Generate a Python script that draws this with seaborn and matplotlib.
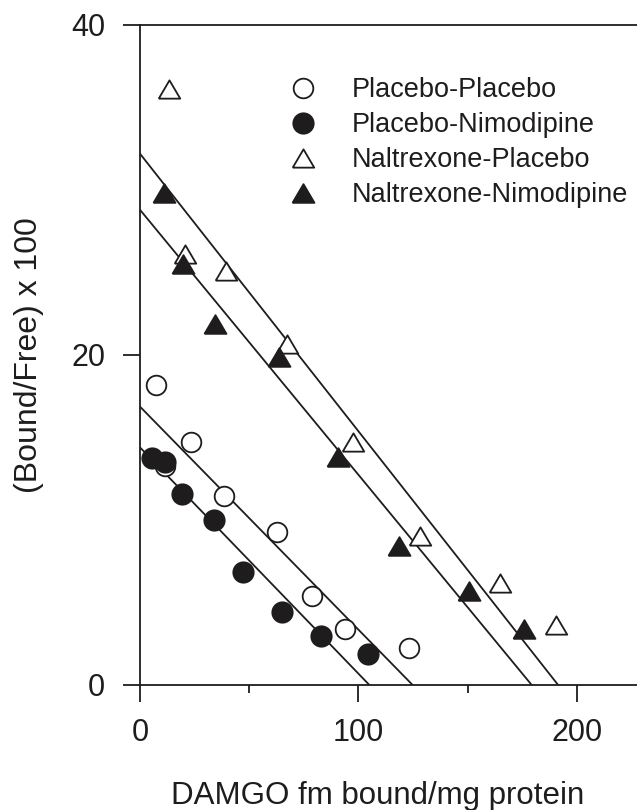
import matplotlib
matplotlib.use("Agg")
import matplotlib.pyplot as plt
from matplotlib.markers import MarkerStyle
from matplotlib.lines import Line2D
import seaborn as sns
import pandas as pd

# ---- data ----
pp_x = [7.3, 11.5, 23.5, 38.4, 62.8, 78.7, 93.7, 123.3]
pp_y = [18.2, 13.3, 14.7, 11.45, 9.3, 5.4, 3.37, 2.22]

pn_x = [5.3, 11.4, 19.2, 34.0, 47.1, 65.1, 82.7, 104.5]
pn_y = [13.74, 13.5, 11.56, 10.0, 6.83, 4.4, 2.99, 1.88]

np_x = [13.1, 20.6, 39.4, 67.1, 97.6, 128.1, 164.8, 190.4]
np_y = [36.1, 26.1, 25.1, 20.65, 14.75, 9.05, 6.2, 3.64]

nn_x = [11.0, 19.8, 34.3, 63.8, 90.8, 118.7, 150.7, 175.7]
nn_y = [29.8, 25.5, 21.9, 19.9, 13.8, 8.4, 5.7, 3.37]

series_names = ["Placebo-Placebo", "Placebo-Nimodipine",
                "Naltrexone-Placebo", "Naltrexone-Nimodipine"]

# fitted lines: y-intercept (at x=0) and x-intercept (at y=0)
line_y0 = [16.87, 14.4, 32.2, 28.8]
line_x0 = [124.8, 105.0, 191.4, 179.3]

x_ticks = [0, 100, 200]
x_minor = [50, 150]
y_ticks = [0, 20, 40]

# ---- style ----
sns.set_theme(style="white")
plt.rcParams["font.family"] = ["Liberation Sans", "DejaVu Sans"]
INK = "#1e1c1d"
LW = 1.3

tri = MarkerStyle([(-1, -0.85), (1, -0.85), (0, 0.85), (-1, -0.85)])
styles = {
    "Placebo-Placebo": dict(marker="o", fc="white", s=200),
    "Placebo-Nimodipine": dict(marker="o", fc=INK, s=215),
    "Naltrexone-Placebo": dict(marker=tri, fc="white", s=240),
    "Naltrexone-Nimodipine": dict(marker=tri, fc=INK, s=250),
}

fig = plt.figure(figsize=(6.37, 8.10), dpi=100)
ax = fig.add_axes([140 / 637, 125 / 810, 497 / 637, 660 / 810])

# regression lines
for name, y0, x0 in zip(series_names, line_y0, line_x0):
    ldf = pd.DataFrame({"x": [0, x0], "y": [y0, 0]})
    sns.lineplot(data=ldf, x="x", y="y", ax=ax, color=INK, lw=LW,
                 estimator=None, sort=False, zorder=2)

# points
xs = [pp_x, pn_x, np_x, nn_x]
ys = [pp_y, pn_y, np_y, nn_y]
for name, x, y in zip(series_names, xs, ys):
    st = styles[name]
    df = pd.DataFrame({"x": x, "y": y})
    sns.scatterplot(data=df, x="x", y="y", ax=ax, marker=st["marker"],
                    s=st["s"], facecolor=st["fc"], edgecolor=INK,
                    linewidth=LW, zorder=3, clip_on=False)

ax.set_xlim(0, 227.5)
ax.set_ylim(0, 40)
ax.set_xticks(x_ticks)
ax.set_xticks(x_minor, minor=True)
ax.set_yticks(y_ticks)
ax.set_xticklabels([str(t) for t in x_ticks])
ax.set_yticklabels([str(t) for t in y_ticks])

for side in ["left", "bottom", "top"]:
    ax.spines[side].set_visible(True)
    ax.spines[side].set_color(INK)
    ax.spines[side].set_linewidth(LW)
ax.spines["right"].set_visible(False)

ax.tick_params(axis="both", which="major", direction="out", length=12,
               width=LW, color=INK, labelsize=22, labelcolor=INK,
               bottom=True, left=True)
ax.tick_params(axis="x", which="major", pad=12)
ax.tick_params(axis="y", which="major", pad=13)
ax.tick_params(axis="x", which="minor", direction="out", length=6,
               width=LW, color=INK, bottom=True)

ax.set_xlabel("DAMGO fm bound/mg protein", fontsize=22.5, color=INK)
ax.set_ylabel("(Bound/Free) x 100", fontsize=23, color=INK)
ax.xaxis.set_label_coords(0.478, -0.146)
ax.yaxis.set_label_coords(-0.193, 0.5)

handles = []
for name in series_names:
    st = styles[name]
    handles.append(Line2D([], [], linestyle="none", marker=st["marker"],
                          markersize=st["s"] ** 0.5, markerfacecolor=st["fc"],
                          markeredgecolor=INK, markeredgewidth=LW))
fig.legend(handles, series_names, loc="upper left",
           bbox_to_anchor=(0.4545, 0.9045), frameon=False, fontsize=19.5,
           handlelength=1.0, handletextpad=1.28, labelspacing=0.33,
           borderpad=0, borderaxespad=0, labelcolor=INK)

fig.savefig("out.png", dpi=100)
